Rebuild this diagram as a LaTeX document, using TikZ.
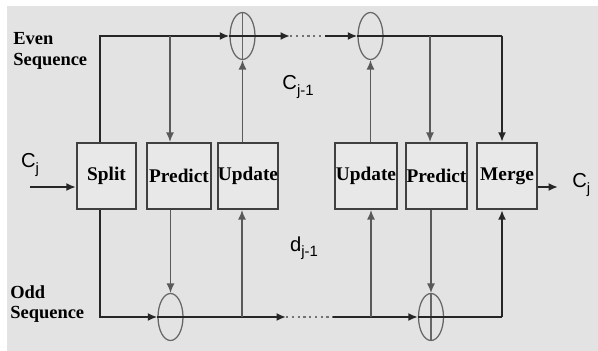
\documentclass[tikz,border=0pt]{standalone}
\usepackage{fontspec}
\setmainfont{Liberation Serif}
\setsansfont{Liberation Sans}
\usetikzlibrary{shapes.geometric,arrows.meta}

\newcommand{\sbs}[1]{\raisebox{-0.5ex}{\fontsize{8.5}{9}\selectfont #1}}

\tikzset{
  blok/.style={draw=black!75, line width=0.45mm, fill=black!9, minimum height=1.32cm, inner sep=0pt, font=\fontsize{11}{13}\selectfont\bfseries},
  summer/.style={draw=black!60, ellipse, line width=0.25mm, minimum width=0.5cm, minimum height=0.94cm, inner sep=0pt},
  main/.style={line width=0.45mm, draw=black!85},
  tap/.style={line width=0.25mm, draw=black!65},
  seqlbl/.style={align=left, inner sep=0pt, font=\fontsize{10.5}{11.5}\selectfont\bfseries},
  clbl/.style={inner sep=0pt, font=\sffamily\fontsize{11.5}{13}\selectfont},
  >={Latex[length=1.9mm,width=1.6mm]}
}

\begin{document}
\begin{tikzpicture}[x=0.02cm, y=-0.02cm]
	\useasboundingbox (0,0) rectangle (598,351);
	\fill[black!11] (7,6) rectangle (598,351);
	
	% blocks
	\node[blok, minimum width=1.18cm] (split) at (106.5,176) {Split};
	\node[blok, minimum width=1.28cm] (predL) at (179,176) {Predict};
	\node[blok, minimum width=1.20cm] (updL) at (248,176) {Update};
	\node[blok, minimum width=1.24cm] (updR) at (366,176) {Update};
	\node[blok, minimum width=1.22cm] (predR) at (436.5,176) {Predict};
	\node[blok, minimum width=1.20cm] (merge) at (507,176) {Merge};
	
	% adders
	\node[summer] (addTL) at (242.5,36) {};
	\node[summer] (addTR) at (370.5,36) {};
	\node[summer] (addBL) at (170.5,317) {};
	\node[summer] (addBR) at (431,317) {};
	\draw[tap, draw=black!60] (addTL.north) -- (addTL.south);
	\draw[tap, draw=black!60] (addBR.north) -- (addBR.south);
	
	\coordinate (evenL) at (100,36);
	\coordinate (evenR) at (502,36);
	\coordinate (oddL) at (100,317);
	\coordinate (oddR) at (502,317);
	\coordinate (gapTL) at (290,36);
	\coordinate (gapTR) at (325,36);
	\coordinate (gapBL) at (286,317);
	\coordinate (gapBR) at (333,317);
	\coordinate (tapPL) at (170,36);
	\coordinate (tapPR) at (430,36);
	\coordinate (tapUL) at (242,317);
	\coordinate (tapUR) at (371,317);
	\coordinate (inp) at (30,187);
	\coordinate (outp) at (558,187);
	
	% even branch
	\draw[main,->] (split.north -| evenL) -- (evenL) -- (addTL.west);
	\draw[main] (addTL.west) -- (addTL.east);
	\draw[main,->] (addTL.east) -- (gapTL);
	\draw[main,dotted,draw=black!55] (gapTL) -- (gapTR);
	\draw[main,->] (gapTR) -- (addTR.west);
	\draw[main] (addTR.west) -- (addTR.east) -- (evenR);
	\draw[main,->] (evenR) -- (merge.north -| evenR);
	\draw[tap,->] (tapPL) -- (tapPL |- predL.north);
	\draw[tap,->] (addTL.south |- updL.north) -- (addTL.south);
	\draw[tap,->] (addTR.south |- updR.north) -- (addTR.south);
	\draw[tap,->] (tapPR) -- (tapPR |- predR.north);
	
	% odd branch
	\draw[main,->] (split.south -| oddL) -- (oddL) -- (addBL.west);
	\draw[main] (addBL.west) -- (addBL.east);
	\draw[main,->] (addBL.east) -- (gapBL);
	\draw[main,dotted,draw=black!55] (gapBL) -- (gapBR);
	\draw[main,->] (gapBR) -- (addBR.west);
	\draw[main] (addBR.west) -- (addBR.east) -- (oddR);
	\draw[main,->] (oddR) -- (merge.south -| oddR);
	\draw[tap,->] (addBL.north |- predL.south) -- (addBL.north);
	\draw[tap,->] (tapUL) -- (tapUL |- updL.south);
	\draw[tap,->] (tapUR) -- (tapUR |- updR.south);
	\draw[tap,->] (addBR.north |- predR.south) -- (addBR.north);
	
	% in and out
	\draw[main,->] (inp) -- (inp -| split.west);
	\draw[main,->] (merge.east |- outp) -- (outp);
	
	% labels
	\node[seqlbl, anchor=west] (evenTxt) at (13,51) {Even\\Sequence};
	\node[seqlbl, anchor=west] (oddTxt) at (10,304) {Odd\\Sequence};
	\node[clbl] (cIn) at (30,165) {C\sbs{j}};
	\node[clbl, anchor=west] (cOut) at (572,185) {C\sbs{j}};
	\node[clbl] (cLow) at (298,87) {C\sbs{j-1}};
	\node[clbl] (dLow) at (304,248) {d\sbs{j-1}};
\end{tikzpicture}
\end{document}
